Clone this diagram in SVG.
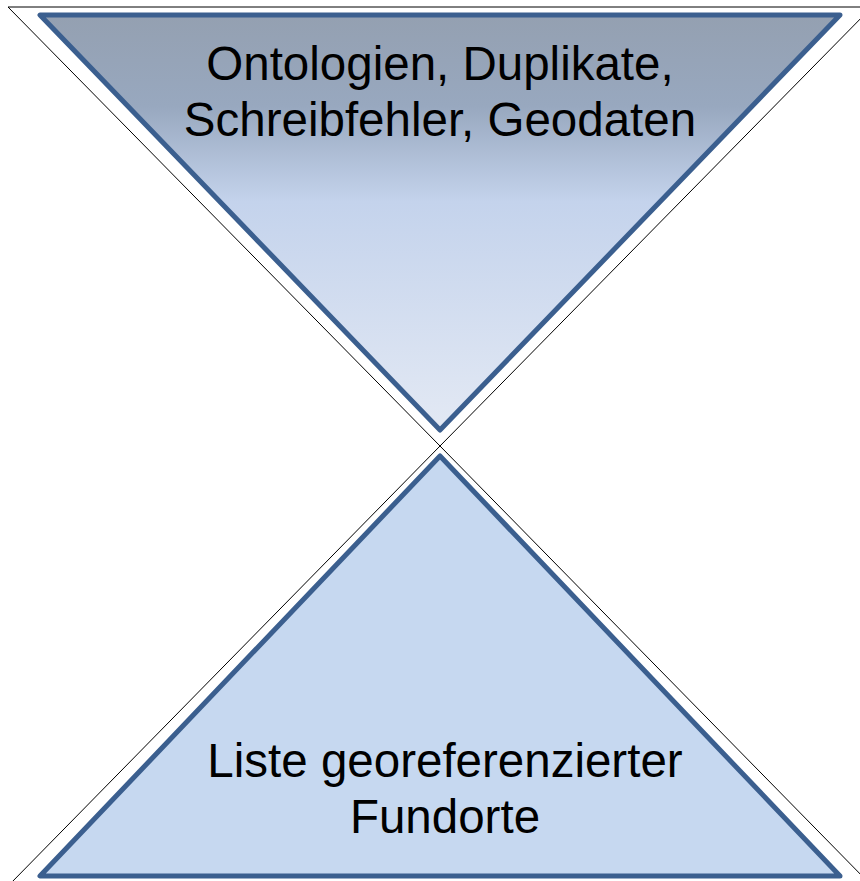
<svg xmlns="http://www.w3.org/2000/svg" width="860" height="881" viewBox="0 0 860 881">
  <defs>
    <linearGradient id="topGrad" x1="0" y1="15" x2="0" y2="430" gradientUnits="userSpaceOnUse">
      <stop offset="0" stop-color="#94a0b1"/>
      <stop offset="0.22" stop-color="#98a8bf"/>
      <stop offset="0.45" stop-color="#c4d3ec"/>
      <stop offset="1" stop-color="#e3e9f4"/>
    </linearGradient>
  </defs>
  <style>
    .outline { fill: none; stroke: #000000; stroke-width: 1; }
    .tri { stroke: #3b5f8f; stroke-width: 5; stroke-linejoin: round; }
    .label { font-family: "Liberation Sans", Arial, sans-serif; font-size: 47.5px; fill: #000000; text-anchor: middle; }
  </style>
  <rect width="860" height="881" fill="#ffffff"/>
  <g id="connectors">
    <polygon class="outline" points="8,7 872,7 440,446"/>
    <polygon class="outline" points="440,446 11,883 869,883"/>
  </g>
  <g id="top-triangle">
    <polygon class="tri" fill="url(#topGrad)" points="40,15 840,15 440,430"/>
    <text class="label" x="440" y="80">Ontologien, Duplikate,</text>
    <text class="label" x="440" y="136">Schreibfehler, Geodaten</text>
  </g>
  <g id="bottom-triangle">
    <polygon class="tri" fill="#c6d8f0" points="440,456 40,876 840,876"/>
    <text class="label" x="445" y="777">Liste georeferenzierter</text>
    <text class="label" x="445" y="833">Fundorte</text>
  </g>
</svg>
